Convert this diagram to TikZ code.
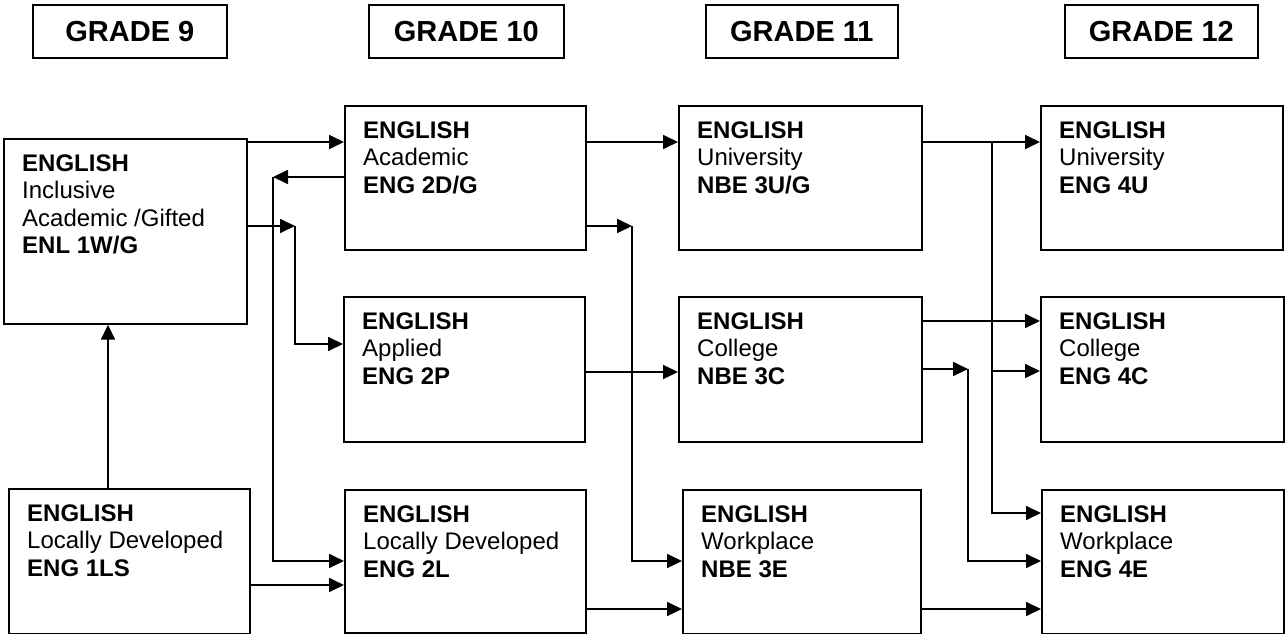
\documentclass[tikz,border=0pt]{standalone}
\usepackage{fontspec}
\setmainfont{Liberation Sans}
\usetikzlibrary{arrows.meta,calc}
\newcommand{\mkcourse}[7]{%
  \node[box, minimum width={#4-#2}, minimum height={#5-#3}] (#1) at (#2,#3) {};
  \node[txt] (#1t) at ($(#1.north west)+(19,33)$) {\parbox[t]{220pt}{\textbf{ENGLISH}\\#6\\\textbf{#7}}};
}
\newcommand{\mkgrade}[4]{%
  \node[hdr, minimum width={#4-#3}] (#1) at (#3,4) {GRADE #2};
}
\begin{document}
\begin{tikzpicture}[x=1pt,y=-1pt,
  box/.style={draw, line width=1.7pt, inner sep=0pt, anchor=north west},
  hdr/.style={draw, line width=1.7pt, inner sep=0pt, anchor=north west, minimum height=53pt,
    font=\fontsize{29}{34}\selectfont\bfseries},
  txt/.style={anchor=base west, inner sep=0pt, font=\fontsize{24}{27.5}\selectfont},
  arr/.style={-{Triangle[length=15pt,width=14pt]}, line width=1.8pt}]
\useasboundingbox (0,0) rectangle (1285,634);
% headers
\mkgrade{h9}{9}{32}{226}
\mkgrade{h10}{10}{368}{563}
\mkgrade{h11}{11}{705}{897}
\mkgrade{h12}{12}{1064}{1257}
% course boxes
\mkcourse{b9a}{3}{138}{246}{323}{Inclusive\\Academic /Gifted}{ENL 1W/G}
\mkcourse{b9b}{8}{488}{249}{633}{Locally Developed}{ENG 1LS}
\mkcourse{b10a}{344}{105}{585}{249}{Academic}{ENG 2D/G}
\mkcourse{b10b}{343}{296}{584}{441}{Applied}{ENG 2P}
\mkcourse{b10c}{344}{489}{585}{632}{Locally Developed}{ENG 2L}
\mkcourse{b11a}{678}{105}{921}{249}{University}{NBE 3U/G}
\mkcourse{b11b}{678}{296}{921}{441}{College}{NBE 3C}
\mkcourse{b11c}{682}{489}{920}{633}{Workplace}{NBE 3E}
\mkcourse{b12a}{1040}{105}{1282}{249}{University}{ENG 4U}
\mkcourse{b12b}{1040}{296}{1283}{441}{College}{ENG 4C}
\mkcourse{b12c}{1041}{489}{1283}{633}{Workplace}{ENG 4E}
% helper levels and corners
\coordinate (L142) at (0,142);
\coordinate (L177) at (0,177);
\coordinate (L226) at (0,226);
\coordinate (L344) at (0,344);
\coordinate (L561) at (0,561);
\coordinate (L585) at (0,585);
\coordinate (L609) at (0,609);
\coordinate (L372) at (0,372);
\coordinate (L321) at (0,321);
\coordinate (L369) at (0,369);
\coordinate (L371) at (0,371);
\coordinate (L513) at (0,513);
\coordinate (X108) at (108,0);
\coordinate (c1) at (273,177);
\coordinate (c2) at (295,226);
\coordinate (c3) at (632,226);
\coordinate (c4) at (992,142);
\coordinate (c5) at (968,369);
% grade 9 -> 10
\draw[arr] (b9a.east |- L142) -- (b10a.west |- L142);
\draw[arr] (b10a.west |- L177) -- (c1);
\draw[arr] (c1) |- (b10c.west |- L561);
\draw[arr] (b9a.east |- L226) -- (c2);
\draw[arr] (c2) |- (b10b.west |- L344);
\draw[arr] (X108 |- b9b.north) -- (X108 |- b9a.south);
\draw[arr] (b9b.east |- L585) -- (b10c.west |- L585);
% grade 10 -> 11
\draw[arr] (b10a.east |- L142) -- (b11a.west |- L142);
\draw[arr] (b10a.east |- L226) -- (c3);
\draw[arr] (c3) |- (b11c.west |- L561);
\draw[arr] (b10b.east |- L372) -- (b11b.west |- L372);
\draw[arr] (b10c.east |- L609) -- (b11c.west |- L609);
% grade 11 -> 12
\draw[arr] (b11a.east |- L142) -- (b12a.west |- L142);
\draw[arr] (c4) |- (b12c.west |- L513);
\draw[arr] (c4 |- L371) -- (b12b.west |- L371);
\draw[arr] (b11b.east |- L321) -- (b12b.west |- L321);
\draw[arr] (b11b.east |- L369) -- (c5);
\draw[arr] (c5) |- (b12c.west |- L561);
\draw[arr] (b11c.east |- L609) -- (b12c.west |- L609);
\end{tikzpicture}
\end{document}
